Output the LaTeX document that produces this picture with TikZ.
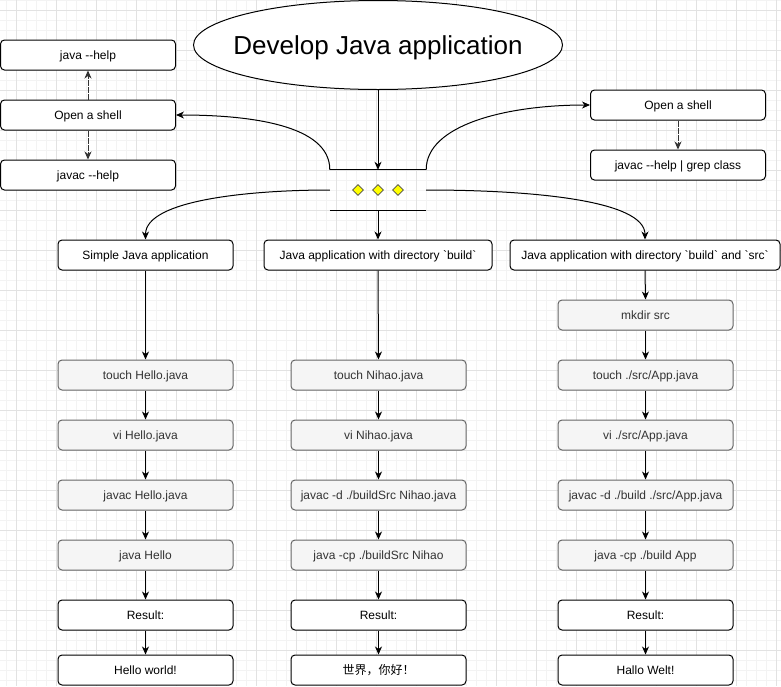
\documentclass[tikz,border=0pt]{standalone}
\usepackage{fontspec}
\setmainfont{Liberation Sans}[Ligatures=NoCommon]
\newfontfamily\cjkfont{Noto Sans CJK SC}
\usetikzlibrary{shapes.geometric,arrows.meta}
\definecolor{gridminor}{HTML}{F3F3F3}
\definecolor{gridmajor}{HTML}{E2E2E2}
\definecolor{graybox}{HTML}{F5F5F5}
\definecolor{grayline}{HTML}{666666}
\definecolor{graytext}{HTML}{333333}
\definecolor{diamondfill}{HTML}{FFFF00}
\newcommand{\dd}{-{}-}
\newcommand{\bq}{\textasciigrave}
\tikzset{
  box/.style={draw=black, fill=white, rounded corners=4pt, minimum width=175pt, minimum height=30pt, inner sep=0pt, font=\fontsize{12}{14}\selectfont, line width=1pt, text depth=0pt, text height=9pt},
  cmdbox/.style={box, fill=graybox, draw=grayline, text=graytext},
  arr/.style={-{Stealth[length=8pt,width=7pt,inset=2.5pt]}, line width=1pt},
  dasharr/.style={arr, draw=black!80, dash pattern=on 6pt off 1pt},
  dia/.style={diamond, draw=black!70, fill=diamondfill, minimum size=11pt, inner sep=0pt, line width=0.7pt},
  minorline/.style={draw=gridminor, line width=1pt},
  majorline/.style={draw=gridmajor, line width=1pt}
}
\begin{document}
\begin{tikzpicture}[x=1pt,y=-1pt]
\useasboundingbox (0,0) rectangle (781,686);
\fill[white] (0,0) rectangle (781,686);
% grid
\foreach \x in {6,16,...,776} \draw[minorline] (\x,0) -- (\x,686);
\foreach \y in {0,10,...,680} \draw[minorline] (0,\y) -- (781,\y);
\foreach \x in {16,56,...,776} \draw[majorline] (\x,0) -- (\x,686);
\foreach \y in {10,50,...,650} \draw[majorline] (0,\y) -- (781,\y);

% title
\node[ellipse, draw, fill=white, line width=1pt, minimum width=369pt, minimum height=89pt, inner sep=0pt] (title) at (378,45) {};
\node[inner sep=0pt, text depth=0pt, text height=19pt, font=\fontsize{26}{30}\selectfont] (titletext) at (title.center) {Develop Java application};

% left shell group
\node[box] (jhelp) at (88,55) {java \dd help};
\node[box] (shellL) at (88,115) {Open a shell};
\node[box] (jchelp) at (88,175) {javac \dd help};

% right shell group
\node[box] (shellR) at (678,105) {Open a shell};
\node[box] (grep) at (678,165) {javac \dd help | grep class};

% parallel marker
\node[minimum width=96pt, minimum height=40pt, inner sep=0pt] (mk) at (378,190) {};
\draw[line width=1pt] (mk.north west) -- (mk.north east);
\draw[line width=1pt] (mk.south west) -- (mk.south east);
\node[dia] (d1) at (358,190) {};
\node[dia] (d2) at (378,190) {};
\node[dia] (d3) at (398,190) {};

% headers
\node[box] (h1) at (145.5,255) {Simple Java application};
\node[box, minimum width=228pt] (h2) at (378,255) {Java application with directory \bq build\bq};
\node[box, minimum width=270pt] (h3) at (645,255) {Java application with directory \bq build\bq{} and \bq src\bq};

% column 1
\node[cmdbox] (a1) at (145.5,375) {touch Hello.java};
\node[cmdbox] (a2) at (145.5,435) {vi Hello.java};
\node[cmdbox] (a3) at (145.5,495) {javac Hello.java};
\node[cmdbox] (a4) at (145.5,555) {java Hello};
\node[box] (a5) at (145.5,615) {Result:};
\node[box] (a6) at (145.5,670) {Hello world!};

% column 2
\node[cmdbox] (b1) at (378.5,375) {touch Nihao.java};
\node[cmdbox] (b2) at (378.5,435) {vi Nihao.java};
\node[cmdbox] (b3) at (378.5,495) {javac -d ./buildSrc Nihao.java};
\node[cmdbox] (b4) at (378.5,555) {java -cp ./buildSrc Nihao};
\node[box] (b5) at (378.5,615) {Result:};
\node[box] (b6) at (378.5,670) {\cjkfont 世界，你好！};

% column 3
\node[cmdbox] (c0) at (645.5,315) {mkdir src};
\node[cmdbox] (c1) at (645.5,375) {touch ./src/App.java};
\node[cmdbox] (c2) at (645.5,435) {vi ./src/App.java};
\node[cmdbox] (c3) at (645.5,495) {javac -d ./build ./src/App.java};
\node[cmdbox] (c4) at (645.5,555) {java -cp ./build App};
\node[box] (c5) at (645.5,615) {Result:};
\node[box] (c6) at (645.5,670) {Hallo Welt!};

% connectors
\draw[arr] (title.south) -- (mk.north);
\draw[arr] (mk.north west) .. controls (330,125) and (250,115) .. (shellL.east);
\draw[arr] (mk.north east) .. controls (426,125) and (506,105) .. (shellR.west);
\draw[dasharr] (shellL.north) -- (jhelp.south);
\draw[dasharr] (shellL.south) -- (jchelp.north);
\draw[dasharr] (shellR.south) -- (grep.north);

\draw[arr] (mk.west) .. controls (250,190) and (145.5,200) .. (h1.north);
\draw[arr] (mk.south) -- (h2.north);
\draw[arr] (mk.east) .. controls (530,190) and (645,200) .. (h3.north);

\draw[arr] (h1.south) -- (a1.north);
\draw[arr] (a1) -- (a2);
\draw[arr] (a2) -- (a3);
\draw[arr] (a3) -- (a4);
\draw[arr] (a4) -- (a5);
\draw[arr] (a5) -- (a6);

\draw[arr] (h2.south) -- (b1.north);
\draw[arr] (b1) -- (b2);
\draw[arr] (b2) -- (b3);
\draw[arr] (b3) -- (b4);
\draw[arr] (b4) -- (b5);
\draw[arr] (b5) -- (b6);

\draw[arr] (h3.south) -- (c0.north);
\draw[arr] (c0) -- (c1);
\draw[arr] (c1) -- (c2);
\draw[arr] (c2) -- (c3);
\draw[arr] (c3) -- (c4);
\draw[arr] (c4) -- (c5);
\draw[arr] (c5) -- (c6);
\end{tikzpicture}
\end{document}
